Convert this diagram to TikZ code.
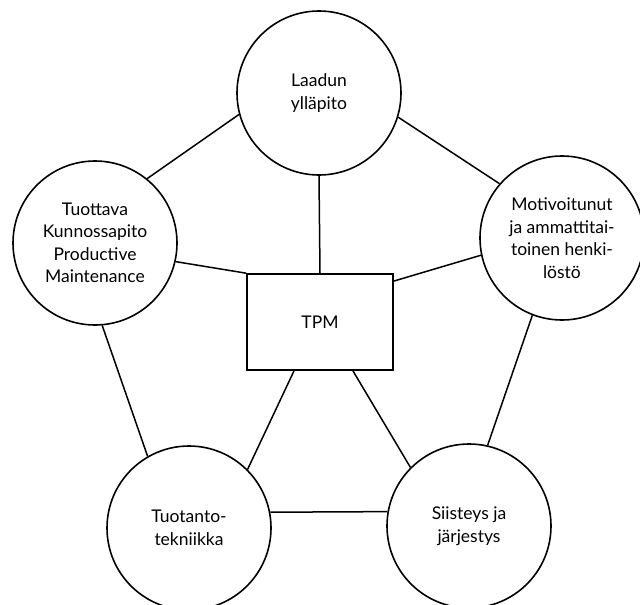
\documentclass[tikz,border=0pt]{standalone}
\usepackage{fontspec}
\setmainfont{Lato}
\usepackage{tikz}
\tikzset{>=latex}
\def\pillarsize{164}
\def\strokewidth{1.6pt}
\def\corewidth{146}
\def\coreheight{96}
\tikzset{
  pillar/.style={circle, draw=black, line width=\strokewidth, minimum size=\pillarsize pt, inner sep=0pt, align=center, font=\fontsize{17.5}{22.5}\selectfont},
  core/.style={rectangle, draw=black, line width=\strokewidth, minimum width=\corewidth pt, minimum height=\coreheight pt, font=\fontsize{17.5}{22}\selectfont},
  link/.style={black, line width=1.5pt}
}

\begin{document}
\begin{tikzpicture}[x=1pt, y=-1pt]
\useasboundingbox (0,0) rectangle (640,605);

% Centre
\node[core] (tpm) at (320,322) {TPM};

% Pillars
\node[pillar] (laatu) at (319,93) {Laadun\\ylläpito};
\node[pillar] (tuottava) at (95,243) {Tuottava\\Kunnossapito\\Productive\\Maintenance};
\node[pillar] (motivaatio) at (562,238) {Motivoitunut\\ja ammattitai-\\toinen henki-\\löstö};
\node[pillar] (tekniikka) at (189,528) {Tuotanto-\\tekniikka};
\node[pillar] (siisteys) at (469,526) {Siisteys ja\\järjestys};

% Ring
\draw[link] (laatu.195) -- (tuottava.51);
\draw[link] (laatu.343) -- (motivaatio.139);
\draw[link] (tuottava.275) -- (tekniikka.120);
\draw[link] (motivaatio.249) -- (siisteys.77);
\draw[link] (tekniikka.11) -- (siisteys.170);

% Spokes
\draw[link] (laatu.south) -- (tpm.north);
\draw[link] (tuottava.347) -- (tpm.north west);
\draw[link] (motivaatio.192) -- (tpm.29);
\draw[link] (tpm.242) -- (tekniikka.45);
\draw[link] (tpm.304) -- (siisteys.135);

\end{tikzpicture}
\end{document}
